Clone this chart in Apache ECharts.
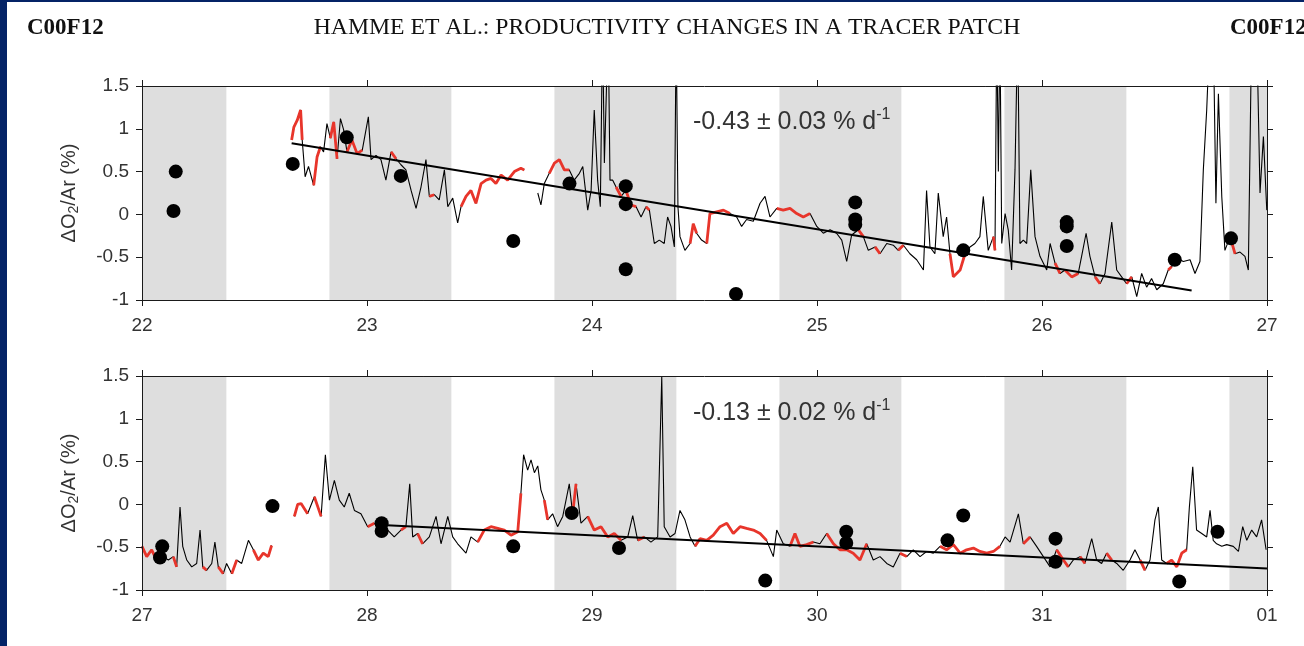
<!DOCTYPE html>
<html><head><meta charset="utf-8">
<script src="https://cdn.jsdelivr.net/npm/echarts/dist/echarts.min.js"></script>
<style>html,body{margin:0;padding:0;background:#fff;}#c{width:1304px;height:646px;}</style>
</head><body><div id="c"></div>
<script>
// ---------- data ----------
const topTickLabels = ['22','23','24','25','26','27'];
const bottomTickLabels = ['27','28','29','30','31','01'];
const yName = ['ΔO', '2', '/Ar (%)'];
const topRate = ['-0.43 ± 0.03 % d', '-1'];
const bottomRate = ['-0.13 ± 0.02 % d', '-1'];
const headerLeft = 'C00F12';
const headerTitle = 'HAMME ET AL.: PRODUCTIVITY CHANGES IN A TRACER PATCH';
const headerRight = 'C00F12';

const topNight = [[22.0,22.375],[22.833,23.375],[23.833,24.375],[24.833,25.375],[25.833,26.375],[26.833,27.0]];
const bottomNight = [[27.0,27.375],[27.833,28.375],[28.833,29.375],[29.833,30.375],[30.833,31.375],[31.833,32.0]];

const topUnderway = [
[22.665,0.87],[22.675,1.02],[22.69,1.10],[22.705,1.22],[22.712,0.87],[22.725,0.44],[22.74,0.56],[22.763,0.34],[22.778,0.67],[22.793,0.79],[22.807,0.73],[22.822,1.06],[22.837,0.89],[22.852,1.08],[22.867,0.65],[22.882,1.12],[22.896,0.99],[22.911,0.73],[22.933,0.87],[22.956,0.71],[22.979,0.75],[23.006,1.14],[23.018,0.64],[23.04,0.69],[23.062,0.64],[23.084,0.40],[23.107,0.73],[23.129,0.65],[23.151,0.58],[23.173,0.52],[23.196,0.28],[23.218,0.07],[23.24,0.32],[23.262,0.64],[23.277,0.21],[23.299,0.23],[23.321,0.17],[23.344,0.52],[23.359,0.09],[23.381,0.19],[23.403,-0.10],[23.418,0.09],[23.44,0.21],[23.462,0.28],[23.484,0.13],[23.507,0.36],[23.529,0.40],[23.551,0.42],[23.573,0.36],[23.596,0.46],[23.625,0.40],[23.655,0.50],[23.684,0.54],[23.699,0.52],null,
[23.759,0.25],[23.773,0.11],[23.788,0.36],[23.81,0.48],[23.833,0.60],[23.855,0.64],[23.877,0.52],[23.899,0.52],[23.921,0.40],[23.944,0.48],[23.959,0.56],[23.981,0.05],[23.996,0.28],[24.01,1.22],[24.025,0.40],[24.037,0.09],[24.047,2.2],[24.055,0.6],[24.072,2.2],[24.08,0.40],[24.092,0.40],[24.107,0.32],[24.129,0.21],[24.151,0.28],[24.173,0.11],[24.196,0.09],[24.218,-0.03],[24.24,0.09],[24.255,0.05],[24.277,-0.34],[24.299,-0.30],[24.321,-0.34],[24.336,-0.03],[24.351,-0.14],[24.366,-0.38],[24.374,2.2],[24.382,0.09],
[24.391,-0.26],[24.413,-0.42],[24.436,-0.34],[24.45,-0.11],[24.465,-0.22],[24.487,-0.30],[24.51,-0.34],[24.524,0.01],[24.554,0.03],[24.584,0.05],[24.613,0.01],[24.643,-0.03],[24.665,-0.14],[24.687,-0.06],[24.717,-0.08],[24.747,0.13],[24.769,0.21],[24.791,-0.03],[24.821,0.07],[24.85,0.05],[24.88,0.07],[24.91,0.01],[24.939,-0.03],[24.969,0.01],[24.999,-0.14],[25.028,-0.22],[25.058,-0.18],[25.087,-0.22],[25.11,-0.30],[25.132,-0.55],[25.154,-0.24],[25.184,-0.18],[25.206,-0.26],[25.228,-0.42],[25.258,-0.38],[25.28,-0.46],[25.31,-0.34],[25.339,-0.36],[25.361,-0.42],[25.384,-0.36],[25.413,-0.46],[25.443,-0.53],[25.473,-0.65],[25.487,0.28],[25.502,-0.38],[25.524,-0.46],[25.539,0.25],[25.561,-0.26],[25.576,-0.03],[25.591,-0.46],[25.606,-0.73],[25.636,-0.65],[25.658,-0.46],[25.68,-0.38],[25.702,-0.34],[25.724,-0.26],[25.739,0.21],[25.761,-0.42],[25.784,-0.26],[25.791,-0.42],[25.799,2.2],[25.806,0.5],[25.813,2.2],[25.821,-0.34],[25.836,0.01],[25.85,-0.18],[25.865,-0.65],[25.88,0.52],[25.892,2.2],[25.902,-0.34],[25.917,-0.30],[25.932,-0.34],[25.95,0.52],[25.969,-0.26],[25.991,-0.49],[26.021,-0.65],[26.036,-0.34],[26.058,-0.57],[26.08,-0.69],[26.102,-0.65],[26.132,-0.73],[26.161,-0.69],[26.176,-0.49],[26.196,-0.22],[26.213,-0.49],[26.236,-0.73],[26.258,-0.81],[26.28,-0.69],[26.31,-0.09],[26.332,-0.65],[26.354,-0.73],[26.376,-0.81],[26.399,-0.73],[26.421,-0.96],[26.443,-0.69],[26.465,-0.85],[26.487,-0.75],[26.51,-0.88],[26.539,-0.81],[26.561,-0.65],[26.576,-0.61],[26.599,-0.51],[26.628,-0.55],[26.658,-0.53],[26.68,-0.69],[26.702,-0.55],[26.717,0.52],[26.732,1.22],[26.747,2.2],[26.761,2.2],[26.773,0.13],[26.784,1.41],[26.799,0.21],[26.813,-0.42],[26.836,-0.26],[26.858,-0.46],[26.88,-0.44],[26.902,-0.49],[26.917,-0.65],[26.932,2.2],[26.954,2.2],[26.969,0.25],[26.984,0.91],[26.999,0.05]
];
const topRedRanges = [[22.665,22.712],[22.763,22.80],[22.837,22.867],[22.905,22.985],[23.10,23.135],[23.277,23.299],[23.41,23.70],[23.80,23.90],[24.10,24.135],[24.145,24.20],[24.23,24.26],[24.43,24.47],[24.51,24.625],[24.815,24.97],[25.18,25.21],[25.25,25.29],[25.355,25.39],[25.59,25.665],[25.775,25.792],[26.05,26.085],[26.10,26.165],[26.225,26.26],[26.36,26.40],[26.55,26.58],[26.83,26.86]];
const topBottles = [[22.15,0.50],[22.14,0.04],[22.67,0.59],[22.91,0.90],[23.15,0.45],[23.65,-0.31],[23.90,0.36],[24.15,0.33],[24.15,0.12],[24.15,-0.64],[24.64,-0.93],[25.17,0.14],[25.17,-0.06],[25.17,-0.12],[25.65,-0.42],[26.11,-0.09],[26.11,-0.14],[26.11,-0.37],[26.59,-0.53],[26.84,-0.28]];
const topFit = [[22.665,0.83],[26.665,-0.89]];

const bottomUnderway = [
[27.0,-0.49],[27.021,-0.61],[27.043,-0.53],[27.065,-0.65],[27.095,-0.61],[27.117,-0.65],[27.139,-0.61],[27.154,-0.73],[27.169,-0.03],[27.181,-0.49],[27.199,-0.65],[27.221,-0.73],[27.243,-0.69],[27.258,-0.30],[27.27,-0.73],[27.287,-0.77],[27.31,-0.69],[27.324,-0.44],[27.339,-0.73],[27.361,-0.81],[27.376,-0.69],[27.399,-0.81],[27.421,-0.65],[27.443,-0.69],[27.473,-0.42],[27.495,-0.53],[27.517,-0.65],[27.539,-0.57],[27.561,-0.61],[27.576,-0.48],null,
[27.677,-0.14],[27.692,0.0],[27.707,0.01],[27.736,-0.11],[27.766,0.09],[27.796,-0.14],[27.815,0.58],[27.833,0.05],[27.855,0.28],[27.877,0.05],[27.899,-0.03],[27.921,0.13],[27.944,-0.07],[27.973,-0.11],[28.003,-0.26],[28.033,-0.22],[28.062,-0.34],[28.092,-0.30],[28.121,-0.38],[28.151,-0.30],[28.173,-0.26],[28.19,0.24],[28.203,-0.38],[28.225,-0.34],[28.247,-0.46],[28.277,-0.38],[28.307,-0.14],[28.329,-0.46],[28.359,-0.14],[28.381,-0.38],[28.403,-0.46],[28.44,-0.57],[28.462,-0.38],[28.492,-0.44],[28.521,-0.30],[28.551,-0.26],[28.581,-0.28],[28.61,-0.30],[28.64,-0.36],[28.67,-0.32],[28.684,0.13],[28.696,0.58],[28.714,0.40],[28.729,0.52],[28.744,0.37],[28.759,0.45],[28.773,0.17],[28.788,0.05],[28.803,-0.18],[28.825,-0.11],[28.847,-0.26],[28.87,-0.14],[28.899,0.24],[28.914,-0.11],[28.929,0.24],[28.951,-0.22],[28.981,-0.14],[29.01,-0.30],[29.04,-0.26],[29.07,-0.38],[29.099,-0.34],[29.129,-0.42],[29.159,-0.38],[29.181,-0.13],[29.203,-0.42],[29.233,-0.38],[29.262,-0.44],[29.292,-0.38],[29.31,1.49],[29.321,-0.26],
[29.347,-0.38],[29.369,-0.34],[29.391,-0.07],[29.413,-0.18],[29.436,-0.38],[29.458,-0.49],[29.48,-0.40],[29.51,-0.42],[29.539,-0.36],[29.569,-0.26],[29.599,-0.22],[29.628,-0.34],[29.658,-0.26],[29.687,-0.28],[29.717,-0.30],[29.747,-0.34],[29.776,-0.42],[29.806,-0.61],[29.821,-0.30],[29.85,-0.46],[29.88,-0.49],[29.902,-0.34],[29.924,-0.49],[29.954,-0.47],[29.984,-0.44],[30.013,-0.46],[30.043,-0.34],[30.073,-0.46],[30.102,-0.53],[30.132,-0.53],[30.161,-0.57],[30.191,-0.65],[30.221,-0.46],[30.25,-0.65],[30.28,-0.61],[30.31,-0.69],[30.339,-0.73],[30.369,-0.57],[30.399,-0.61],[30.428,-0.53],[30.458,-0.61],[30.487,-0.55],[30.517,-0.57],[30.547,-0.49],[30.576,-0.53],[30.606,-0.47],[30.636,-0.57],[30.665,-0.53],[30.695,-0.51],[30.724,-0.55],[30.754,-0.57],[30.784,-0.55],[30.813,-0.49],[30.836,-0.38],[30.858,-0.44],[30.895,-0.11],[30.917,-0.46],[30.947,-0.38],[30.976,-0.49],[31.006,-0.61],[31.036,-0.73],[31.065,-0.53],
[31.095,-0.65],[31.117,-0.73],[31.139,-0.65],[31.169,-0.61],[31.191,-0.69],[31.221,-0.40],[31.243,-0.65],[31.265,-0.69],[31.287,-0.57],[31.31,-0.65],[31.332,-0.69],[31.361,-0.77],[31.391,-0.65],[31.413,-0.53],[31.436,-0.65],[31.458,-0.77],[31.48,-0.65],[31.502,-0.18],[31.517,-0.03],[31.532,-0.65],[31.554,-0.69],[31.576,-0.65],[31.599,-0.73],[31.621,-0.57],[31.643,-0.53],[31.655,-0.03],[31.67,0.44],[31.687,-0.30],[31.71,-0.34],[31.732,-0.38],[31.747,-0.07],[31.761,-0.42],[31.776,-0.46],[31.799,-0.49],[31.821,-0.47],[31.85,-0.49],[31.873,-0.55],[31.892,-0.26],[31.91,-0.42],[31.932,-0.30],[31.954,-0.38],[31.976,-0.18],[31.996,-0.53]
];
const bottomRedRanges = [[27.0,27.065],[27.139,27.154],[27.27,27.287],[27.339,27.361],[27.399,27.421],[27.495,27.576],[27.677,27.736],[27.766,27.796],[28.003,28.033],[28.062,28.092],[28.151,28.173],[28.225,28.247],[28.492,28.684],[28.788,28.803],[28.914,28.929],[28.981,29.129],[29.203,29.233],[29.458,29.776],[29.88,29.984],[30.043,30.221],[30.369,30.399],[30.547,30.813],[30.917,30.947],[31.065,31.117],[31.169,31.191],[31.287,31.31],[31.436,31.458],[31.554,31.643]];
const bottomBottles = [[27.09,-0.49],[27.08,-0.62],[27.58,-0.02],[28.065,-0.22],[28.065,-0.31],[28.65,-0.49],[28.91,-0.10],[29.12,-0.51],[29.77,-0.89],[30.13,-0.32],[30.13,-0.45],[30.58,-0.42],[30.65,-0.13],[31.06,-0.40],[31.06,-0.67],[31.61,-0.90],[31.78,-0.32]];
const bottomFit = [[28.065,-0.24],[32.0,-0.75]];

// ---------- styling / layout ----------
const Y_MIN = -1, Y_MAX = 1.5;
const SANS = 'Liberation Sans';
const AX = '#1a1a1a';
const TXT = '#333';
const RED = '#e8352b';
const GRAY = '#dedede';

function toLine(arr) { return arr.map(p => p ? p : ['-', '-']); }
function redFrom(arr, ranges) {
  const out = [];
  ranges.forEach(r => {
    arr.forEach(p => { if (p && p[0] >= r[0] - 1e-6 && p[0] <= r[1] + 1e-6) out.push(p); });
    out.push(['-', '-']);
  });
  return out;
}
function xAxes(gi, min, labels) {
  const base = {
    gridIndex: gi, type: 'value', min: min, max: min + 5, interval: 1, z: 5,
    axisLine: { onZero: false, lineStyle: { color: AX, width: 1 } },
    axisTick: { inside: false, length: 6, lineStyle: { color: AX, width: 1 } },
    splitLine: { show: false }
  };
  return [
    Object.assign({}, base, { position: 'bottom',
      axisLabel: { margin: 16, fontSize: 19, color: TXT, fontFamily: SANS,
        formatter: v => labels[Math.round(v - min)] } }),
    Object.assign({}, base, { position: 'top', axisLabel: { show: false } })
  ];
}
function yAxes(gi) {
  const base = {
    gridIndex: gi, type: 'value', min: Y_MIN, max: Y_MAX, interval: 0.5, z: 5,
    axisLine: { onZero: false, lineStyle: { color: AX, width: 1 } },
    axisTick: { inside: false, length: 6, lineStyle: { color: AX, width: 1 } },
    splitLine: { show: false }
  };
  return [
    Object.assign({}, base, { position: 'left',
      axisLabel: { margin: 13, fontSize: 19, color: TXT, fontFamily: SANS },
      name: '{a|' + yName[0] + '}{s|' + yName[1] + '}{a|' + yName[2] + '}',
      nameLocation: 'middle', nameRotate: 90, nameGap: 61,
      nameTextStyle: { color: TXT, fontFamily: SANS,
        rich: { a: { fontSize: 20, lineHeight: 24, fontFamily: SANS, color: TXT },
                s: { fontSize: 14, lineHeight: 12, verticalAlign: 'bottom', fontFamily: SANS, color: TXT } } } }),
    Object.assign({}, base, { position: 'right', axisLabel: { show: false } })
  ];
}
function panelSeries(gi, night, underway, redRanges, bottles, fit) {
  const xi = gi * 2, yi = gi * 2;
  return [
    { type: 'custom', xAxisIndex: xi, yAxisIndex: yi, z: 1, clip: true, silent: true,
      data: night, encode: { x: [0, 1] },
      renderItem: function (params, api) {
        const p0 = api.coord([api.value(0), Y_MAX]);
        const p1 = api.coord([api.value(1), Y_MIN]);
        return { type: 'rect', shape: { x: p0[0], y: p0[1], width: p1[0] - p0[0], height: p1[1] - p0[1] },
                 style: { fill: GRAY } };
      } },
    { type: 'line', xAxisIndex: xi, yAxisIndex: yi, z: 2, data: toLine(underway), showSymbol: false,
      connectNulls: false, clip: true, lineStyle: { color: '#000', width: 1.1 } },
    { type: 'line', xAxisIndex: xi, yAxisIndex: yi, z: 3, data: redFrom(underway, redRanges), showSymbol: false,
      connectNulls: false, clip: true, lineStyle: { color: RED, width: 2.8 } },
    { type: 'line', xAxisIndex: xi, yAxisIndex: yi, z: 4, data: fit, showSymbol: false,
      lineStyle: { color: '#000', width: 2 } },
    { type: 'scatter', xAxisIndex: xi, yAxisIndex: yi, z: 5, data: bottles, symbolSize: 14,
      itemStyle: { color: '#000', opacity: 1 } }
  ];
}
function rateText(x, y, parts) {
  return { type: 'text', x: x, y: y, z: 10,
    style: { text: '{a|' + parts[0] + '}{s|' + parts[1] + '}',
      verticalAlign: 'middle', textVerticalAlign: 'middle',
      rich: { a: { fontSize: 25, lineHeight: 30, fontFamily: SANS, fill: TXT, color: TXT },
              s: { fontSize: 16, lineHeight: 16, verticalAlign: 'top', fontFamily: SANS, fill: TXT, color: TXT } } } };
}

const chart = echarts.init(document.getElementById('c'), null, { renderer: 'canvas' });
chart.setOption({
  animation: false,
  backgroundColor: '#fff',
  grid: [
    { left: 142, top: 86, width: 1125, height: 214 },
    { left: 142, top: 376, width: 1125, height: 214 }
  ],
  xAxis: [].concat(xAxes(0, 22, topTickLabels), xAxes(1, 27, bottomTickLabels)),
  yAxis: [].concat(yAxes(0), yAxes(1)),
  series: [].concat(
    panelSeries(0, topNight, topUnderway, topRedRanges, topBottles, topFit),
    panelSeries(1, bottomNight, bottomUnderway, bottomRedRanges, bottomBottles, bottomFit)
  ),
  graphic: [
    { type: 'rect', left: 0, top: 0, z: 20, shape: { width: 7, height: 646 }, style: { fill: '#042366' } },
    { type: 'rect', left: 0, top: 0, z: 20, shape: { width: 1304, height: 2 }, style: { fill: '#042366' } },
    { type: 'text', x: 27, y: 28, z: 10, style: { text: headerLeft, font: 'bold 23px "Liberation Serif"', fill: '#111', verticalAlign: 'middle', textVerticalAlign: 'middle' } },
    { type: 'text', x: 667, y: 28, z: 10, style: { text: headerTitle, font: '23.7px "Liberation Serif"', fill: '#111', align: 'center', textAlign: 'center', verticalAlign: 'middle', textVerticalAlign: 'middle' } },
    { type: 'text', x: 1230, y: 28, z: 10, style: { text: headerRight, font: 'bold 23px "Liberation Serif"', fill: '#111', verticalAlign: 'middle', textVerticalAlign: 'middle' } },
    rateText(693, 122, topRate),
    rateText(693, 413, bottomRate)
  ]
});
</script>
</body></html>
